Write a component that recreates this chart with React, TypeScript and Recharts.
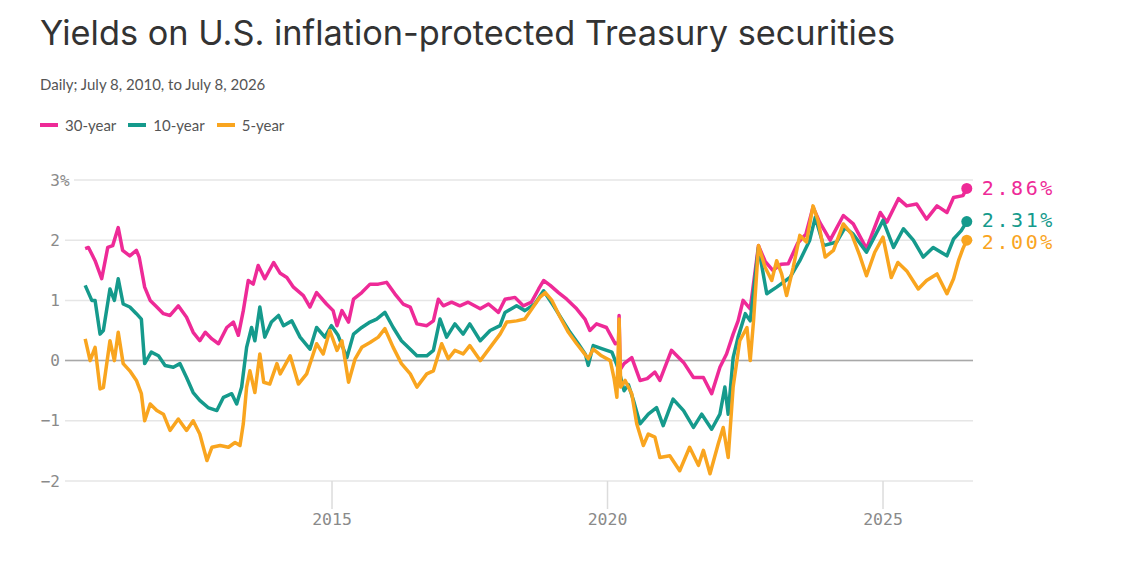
import React from 'react';
import { LineChart, Line, XAxis, YAxis, CartesianGrid, ReferenceLine, ReferenceDot } from 'recharts';

// [decimal year, yield %]
type Point = [number, number];

const thirtyYear: Point[] = [
  [2010.52, 1.86], [2010.58, 1.88], [2010.7, 1.66], [2010.82, 1.36], [2010.93, 1.88],
  [2011.02, 1.91], [2011.12, 2.21], [2011.2, 1.83], [2011.33, 1.74], [2011.45, 1.83],
  [2011.5, 1.72], [2011.6, 1.22], [2011.7, 1.0], [2011.82, 0.89], [2011.94, 0.78],
  [2012.06, 0.75], [2012.21, 0.91], [2012.36, 0.72], [2012.48, 0.47], [2012.6, 0.33],
  [2012.7, 0.47], [2012.82, 0.36], [2012.94, 0.28], [2013.09, 0.55], [2013.21, 0.64],
  [2013.3, 0.42], [2013.39, 0.83], [2013.48, 1.33], [2013.57, 1.27], [2013.66, 1.58],
  [2013.78, 1.36], [2013.94, 1.63], [2014.06, 1.45], [2014.18, 1.38], [2014.3, 1.22],
  [2014.48, 1.08], [2014.6, 0.89], [2014.72, 1.13], [2014.9, 0.94], [2015.02, 0.83],
  [2015.09, 0.58], [2015.18, 0.83], [2015.3, 0.64], [2015.39, 1.02], [2015.54, 1.13],
  [2015.69, 1.27], [2015.84, 1.27], [2015.99, 1.3], [2016.14, 1.11], [2016.29, 0.94],
  [2016.42, 0.89], [2016.54, 0.61], [2016.72, 0.58], [2016.84, 0.66], [2016.93, 1.02],
  [2017.02, 0.91], [2017.17, 0.97], [2017.32, 0.91], [2017.47, 0.97], [2017.69, 0.86],
  [2017.84, 0.94], [2018.02, 0.8], [2018.14, 1.02], [2018.32, 1.05], [2018.47, 0.91],
  [2018.62, 0.97], [2018.75, 1.19], [2018.84, 1.33], [2018.96, 1.25], [2019.11, 1.13],
  [2019.26, 1.02], [2019.44, 0.86], [2019.59, 0.69], [2019.68, 0.5], [2019.8, 0.61],
  [2019.98, 0.55], [2020.14, 0.28], [2020.2, 0.3], [2020.21, 0.75], [2020.23, -0.15],
  [2020.3, -0.05], [2020.44, 0.05], [2020.59, -0.33], [2020.72, -0.3], [2020.86, -0.19],
  [2020.95, -0.33], [2021.16, 0.17], [2021.38, -0.03], [2021.56, -0.28], [2021.74, -0.28],
  [2021.89, -0.55], [2022.04, -0.11], [2022.16, 0.11], [2022.28, 0.44], [2022.37, 0.66],
  [2022.46, 1.0], [2022.59, 0.86], [2022.74, 1.91], [2022.86, 1.65], [2023.0, 1.5],
  [2023.15, 1.6], [2023.28, 1.61], [2023.45, 1.95], [2023.6, 2.1], [2023.73, 2.55],
  [2023.85, 2.3], [2024.04, 2.0], [2024.28, 2.41], [2024.46, 2.27], [2024.7, 1.86],
  [2024.95, 2.46], [2025.07, 2.3], [2025.28, 2.69], [2025.43, 2.57], [2025.61, 2.6],
  [2025.79, 2.35], [2025.98, 2.57], [2026.16, 2.46], [2026.28, 2.71], [2026.45, 2.74],
  [2026.52, 2.86],
];

const tenYear: Point[] = [
  [2010.52, 1.25], [2010.64, 1.0], [2010.7, 1.0], [2010.79, 0.44], [2010.85, 0.5],
  [2010.97, 1.19], [2011.05, 1.0], [2011.12, 1.36], [2011.21, 0.94], [2011.33, 0.89],
  [2011.45, 0.78], [2011.54, 0.69], [2011.6, -0.05], [2011.72, 0.14], [2011.85, 0.08],
  [2011.97, -0.08], [2012.12, -0.11], [2012.24, -0.05], [2012.36, -0.28], [2012.48, -0.53],
  [2012.6, -0.66], [2012.75, -0.78], [2012.91, -0.83], [2013.03, -0.61], [2013.18, -0.55],
  [2013.27, -0.72], [2013.36, -0.44], [2013.45, 0.22], [2013.54, 0.55], [2013.6, 0.33],
  [2013.69, 0.89], [2013.78, 0.39], [2013.9, 0.64], [2014.03, 0.75], [2014.12, 0.58],
  [2014.27, 0.66], [2014.42, 0.39], [2014.6, 0.19], [2014.72, 0.55], [2014.87, 0.39],
  [2014.99, 0.58], [2015.11, 0.42], [2015.27, 0.05], [2015.39, 0.44], [2015.54, 0.55],
  [2015.69, 0.64], [2015.81, 0.69], [2015.96, 0.8], [2016.11, 0.55], [2016.26, 0.33],
  [2016.42, 0.19], [2016.54, 0.08], [2016.72, 0.08], [2016.84, 0.17], [2016.96, 0.69],
  [2017.08, 0.39], [2017.23, 0.61], [2017.38, 0.44], [2017.5, 0.61], [2017.69, 0.33],
  [2017.87, 0.5], [2018.05, 0.58], [2018.14, 0.8], [2018.35, 0.91], [2018.5, 0.83],
  [2018.68, 0.94], [2018.84, 1.16], [2019.02, 0.91], [2019.17, 0.69], [2019.32, 0.47],
  [2019.47, 0.28], [2019.6, 0.1], [2019.65, -0.08], [2019.74, 0.25], [2019.92, 0.19],
  [2020.08, 0.14], [2020.14, 0.0], [2020.21, -0.17], [2020.3, -0.5], [2020.38, -0.4],
  [2020.47, -0.66], [2020.59, -1.05], [2020.74, -0.89], [2020.89, -0.78], [2021.01, -1.08],
  [2021.19, -0.64], [2021.38, -0.83], [2021.56, -1.11], [2021.71, -0.89], [2021.89, -1.14],
  [2022.04, -0.89], [2022.13, -0.44], [2022.19, -0.89], [2022.28, 0.05], [2022.37, 0.39],
  [2022.5, 0.78], [2022.59, 0.66], [2022.74, 1.88], [2022.89, 1.11], [2023.07, 1.22],
  [2023.31, 1.38], [2023.49, 1.66], [2023.67, 2.0], [2023.77, 2.38], [2023.92, 1.91],
  [2024.16, 1.97], [2024.31, 2.21], [2024.46, 2.1], [2024.7, 1.8], [2025.0, 2.33],
  [2025.19, 1.88], [2025.37, 2.19], [2025.55, 2.0], [2025.73, 1.72], [2025.91, 1.88],
  [2026.16, 1.74], [2026.28, 2.02], [2026.42, 2.16], [2026.52, 2.31],
];

const fiveYear: Point[] = [
  [2010.52, 0.36], [2010.61, 0.0], [2010.7, 0.22], [2010.79, -0.47], [2010.85, -0.45],
  [2010.97, 0.33], [2011.05, 0.0], [2011.12, 0.47], [2011.21, -0.05], [2011.33, -0.17],
  [2011.45, -0.33], [2011.54, -0.55], [2011.6, -1.0], [2011.7, -0.72], [2011.82, -0.83],
  [2011.94, -0.89], [2012.06, -1.16], [2012.21, -0.97], [2012.36, -1.16], [2012.48, -1.0],
  [2012.6, -1.22], [2012.73, -1.66], [2012.82, -1.44], [2012.97, -1.41], [2013.12, -1.44],
  [2013.24, -1.36], [2013.33, -1.41], [2013.39, -1.05], [2013.45, -0.44], [2013.51, -0.17],
  [2013.6, -0.53], [2013.69, 0.11], [2013.76, -0.36], [2013.87, -0.39], [2014.0, -0.05],
  [2014.06, -0.22], [2014.24, 0.08], [2014.39, -0.39], [2014.54, -0.22], [2014.72, 0.28],
  [2014.84, 0.11], [2014.96, 0.5], [2015.09, 0.17], [2015.18, 0.33], [2015.3, -0.36],
  [2015.42, 0.03], [2015.54, 0.22], [2015.69, 0.3], [2015.84, 0.39], [2015.96, 0.53],
  [2016.11, 0.22], [2016.26, -0.05], [2016.42, -0.22], [2016.54, -0.44], [2016.72, -0.22],
  [2016.84, -0.17], [2016.99, 0.28], [2017.11, 0.03], [2017.23, 0.17], [2017.38, 0.11],
  [2017.5, 0.25], [2017.69, 0.0], [2017.87, 0.22], [2018.05, 0.44], [2018.17, 0.64],
  [2018.35, 0.66], [2018.5, 0.69], [2018.65, 0.89], [2018.77, 1.05], [2018.87, 1.13],
  [2018.99, 1.0], [2019.14, 0.72], [2019.29, 0.47], [2019.44, 0.28], [2019.56, 0.14],
  [2019.65, 0.03], [2019.74, 0.19], [2019.89, 0.08], [2020.05, 0.0], [2020.12, -0.3],
  [2020.17, -0.61], [2020.21, 0.69], [2020.24, -0.44], [2020.32, -0.33], [2020.44, -0.55],
  [2020.53, -1.05], [2020.65, -1.41], [2020.74, -1.22], [2020.86, -1.27], [2020.95, -1.61],
  [2021.13, -1.58], [2021.31, -1.83], [2021.49, -1.44], [2021.65, -1.74], [2021.74, -1.49],
  [2021.86, -1.88], [2022.01, -1.38], [2022.1, -1.11], [2022.19, -1.61], [2022.28, -0.44],
  [2022.4, 0.33], [2022.53, 0.55], [2022.59, 0.0], [2022.65, 0.66], [2022.74, 1.91],
  [2022.86, 1.55], [2022.98, 1.33], [2023.07, 1.66], [2023.16, 1.44], [2023.25, 1.08],
  [2023.37, 1.55], [2023.49, 2.08], [2023.61, 1.97], [2023.73, 2.57], [2023.82, 2.33],
  [2023.95, 1.72], [2024.1, 1.83], [2024.28, 2.27], [2024.43, 2.1], [2024.58, 1.74],
  [2024.7, 1.41], [2024.85, 1.8], [2025.0, 2.05], [2025.15, 1.38], [2025.27, 1.63],
  [2025.43, 1.49], [2025.64, 1.19], [2025.79, 1.33], [2025.98, 1.44], [2026.16, 1.11],
  [2026.28, 1.36], [2026.37, 1.66], [2026.45, 1.86], [2026.52, 2.0],
];

const yTicks = [-2, -1, 0, 1, 2, 3];
const xTicks = [2015, 2020, 2025];
const xDomain = [2010.154, 2026.633];

const series = [
  { name: '30-year', color: '#ee2a97', points: thirtyYear, labelShift: 0 },
  { name: '10-year', color: '#159a8c', points: tenYear, labelShift: -1.5 },
  { name: '5-year', color: '#f9a51f', points: fiveYear, labelShift: 1.5 },
];

const MONO = '"DejaVu Sans Mono", monospace';
const TITLE_FONT = 'Inter, "Noto Sans", sans-serif';
const BODY_FONT = 'Lato, "Noto Sans", sans-serif';

function YTick(props: any) {
  const { x, y, payload } = props;
  const v = payload.value;
  const label = v < 0 ? `\u2212${Math.abs(v)}` : String(v);
  return (
    <g>
      {v === 3 && <rect x={x + 1} y={y - 3} width={13} height={6} fill="#fff" />}
      <text x={x} y={y} dy="0.35em" textAnchor="end" fill="#8a8a8a" fontSize={16} fontFamily={MONO}>
        {label}
      </text>
      {v === 3 && (
        <text x={x} y={y} dy="0.35em" textAnchor="start" fill="#8a8a8a" fontSize={16} fontFamily={MONO}>
          %
        </text>
      )}
    </g>
  );
}

function endMarker(color: string, value: number, shift: number) {
  return (props: any) => {
    const { cx, cy } = props;
    return (
      <g>
        <circle cx={cx} cy={cy} r={5.5} fill={color} />
        <text
          x={cx + 15}
          y={cy + shift}
          dy="0.35em"
          fill={color}
          fontSize={20}
          fontFamily={MONO}
          letterSpacing={2.6}
        >
          {`${value.toFixed(2)}%`}
        </text>
      </g>
    );
  };
}

export default function App() {
  return (
    <div style={{ position: 'relative', width: 1124, height: 554, background: '#fff' }}>
      <div
        style={{
          position: 'absolute',
          left: 32,
          top: 5,
          fontFamily: TITLE_FONT,
          fontSize: 34.3,
          lineHeight: '40px',
          color: '#333',
          whiteSpace: 'nowrap',
        }}
      >
        Yields on U.S. inflation-protected Treasury securities
      </div>
      <div
        style={{
          position: 'absolute',
          left: 32,
          top: 66,
          fontFamily: BODY_FONT,
          fontSize: 15,
          lineHeight: '20px',
          color: '#555',
        }}
      >
        Daily; July 8, 2010, to July 8, 2026
      </div>
      <div
        style={{
          position: 'absolute',
          left: 32,
          top: 107,
          display: 'flex',
          alignItems: 'center',
          fontFamily: BODY_FONT,
          fontSize: 15,
          lineHeight: '20px',
          color: '#555',
        }}
      >
        {series.map((s) => (
          <div key={s.name} style={{ display: 'flex', alignItems: 'center', marginRight: 12 }}>
            <span style={{ width: 18, height: 4, background: s.color, marginRight: 7, display: 'inline-block' }} />
            <span>{s.name}</span>
          </div>
        ))}
      </div>
      <LineChart width={1124} height={554} margin={{ top: 172, right: 159, bottom: 31, left: 7 }}>
        <CartesianGrid vertical={false} stroke="#e6e6e6" strokeWidth={1.5} />
        <XAxis
          type="number"
          dataKey="t"
          domain={xDomain}
          ticks={xTicks}
          allowDataOverflow
          height={50}
          axisLine={false}
          tickLine={{ stroke: '#dcdcdc', strokeWidth: 1.5 }}
          tickSize={28}
          tickMargin={4}
          tick={{ fill: '#8a8a8a', fontSize: 16.5, fontFamily: MONO }}
        />
        <YAxis
          type="number"
          domain={[-2, 3]}
          ticks={yTicks}
          width={50}
          axisLine={false}
          tickLine={false}
          tickSize={0}
          tickMargin={5}
          tick={<YTick />}
        />
        <ReferenceLine y={0} stroke="#a8a8a8" strokeWidth={1.5} />
        {series.map((s) => (
          <Line
            key={s.name}
            data={s.points.map(([t, v]) => ({ t, v }))}
            dataKey="v"
            type="linear"
            stroke={s.color}
            strokeWidth={3.5}
            strokeLinejoin="round"
            dot={false}
            activeDot={false}
            isAnimationActive={false}
          />
        ))}
        {series.map((s) => {
          const [t, v] = s.points[s.points.length - 1];
          return (
            <ReferenceDot
              key={`end-${s.name}`}
              x={t}
              y={v}
              r={5.5}
              ifOverflow="visible"
              shape={endMarker(s.color, v, s.labelShift)}
            />
          );
        })}
      </LineChart>
    </div>
  );
}
